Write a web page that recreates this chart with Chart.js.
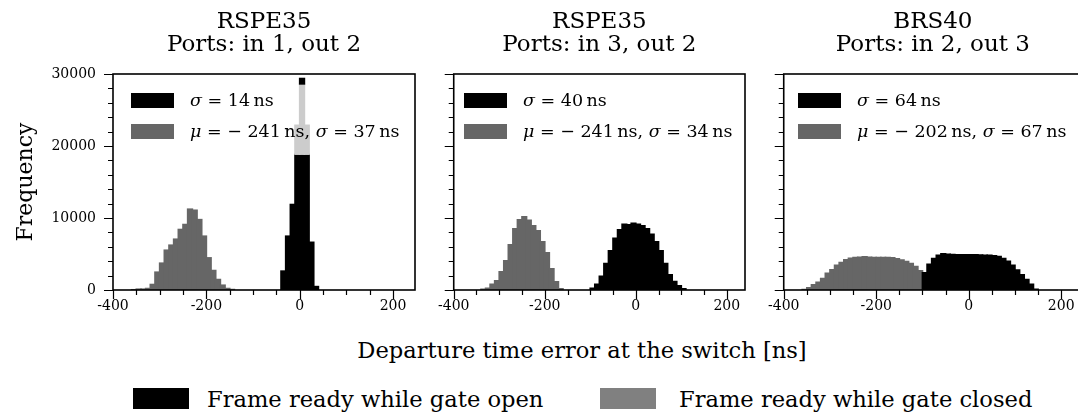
<!DOCTYPE html>
<html>
<head>
<meta charset="utf-8">
<script src="https://cdn.jsdelivr.net/npm/chart.js@4.4.1/dist/chart.umd.min.js"></script>
<style>
  body { margin: 0; width: 1078px; height: 414px; overflow: hidden; background: #fff; position: relative; font-family: "DejaVu Serif", serif; color: #000; }
  canvas { position: absolute; top: 0; }
  .sw { position: absolute; width: 43px; height: 15px; }
  .lt { position: absolute; font-size: 17.5px; line-height: 1; white-space: nowrap; transform: translateY(-50%); }
  .bigsw { position: absolute; width: 56px; height: 21px; }
  .bigt { position: absolute; font-size: 22.6px; line-height: 1; white-space: nowrap; transform: translateY(-50%); }
  #xtitle { position: absolute; left: 582px; top: 350px; font-size: 22.6px; line-height: 1; white-space: nowrap; transform: translate(-50%, -50%); }
</style>
</head>
<body>
<canvas id="c1" width="430" height="330" style="left:0px"></canvas>
<canvas id="c2" width="330" height="330" style="left:430px"></canvas>
<canvas id="c3" width="330" height="330" style="left:760px"></canvas>
<div id="xtitle">Departure time error at the switch [ns]</div>
<div id="legends"></div>
<script>
const titles = [
  ["RSPE35", "Ports: in 1, out 2"],
  ["RSPE35", "Ports: in 3, out 2"],
  ["BRS40", "Ports: in 2, out 3"]
];
const openLabels = ["<i>σ</i> = 14&thinsp;ns", "<i>σ</i> = 40&thinsp;ns", "<i>σ</i> = 64&thinsp;ns"];
const closedLabels = [
  "<i>μ</i> = − 241&thinsp;ns, <i>σ</i> = 37&thinsp;ns",
  "<i>μ</i> = − 241&thinsp;ns, <i>σ</i> = 34&thinsp;ns",
  "<i>μ</i> = − 202&thinsp;ns, <i>σ</i> = 67&thinsp;ns"
];
const xTicks = [-400, -200, 0, 200];
const yTicks = [0, 10000, 20000, 30000];

// panel 1: RSPE35 in 1 / out 2 (bin centres, 10 ns bins)
const p1ClosedBins = [-355, -345, -335, -325, -315, -305, -295, -285, -275, -265, -255, -245, -235, -225, -215, -205, -195, -185, -175, -165, -155, -145];
const p1Closed = [60, 140, 140, 230, 790, 2500, 3750, 5550, 6250, 7080, 8430, 9120, 11250, 11100, 9800, 7500, 4490, 2730, 1480, 690, 230, 90];
const p1OpenBins = [-35, -25, -15, -5, 5, 15, 25, 35];
const p1Open = [2650, 7500, 11900, 18840, 18840, 18840, 6650, 500];
const p1ClipBins = [-5, 5, 15];
const p1ClipLow = [18840, 18840, 18840];
const p1ClipHigh = [22900, 28600, 22900];
const p1PeakBins = [5];
const p1PeakLow = [28600];
const p1PeakHigh = [29400];

// panel 2: RSPE35 in 3 / out 2
const p2ClosedBins = [-335, -325, -315, -305, -295, -285, -275, -265, -255, -245, -235, -225, -215, -205, -195, -185, -175, -165];
const p2Closed = [140, 280, 830, 1300, 2550, 4070, 6300, 8520, 9770, 10190, 9720, 8940, 8240, 6710, 5190, 2960, 1160, 185];
const p2OpenBins = [-95, -85, -75, -65, -55, -45, -35, -25, -15, -5, 5, 15, 25, 35, 45, 55, 65, 75, 85, 95, 105];
const p2Open = [280, 830, 1940, 3700, 5460, 7220, 8380, 9170, 9070, 9300, 9170, 8940, 8520, 7780, 6710, 5460, 3700, 2130, 1200, 600, 185];

// panel 3: BRS40 in 2 / out 3
const p3ClosedBins = [-355, -345, -335, -325, -315, -305, -295, -285, -275, -265, -255, -245, -235, -225, -215, -205, -195, -185, -175, -165, -155, -145, -135, -125, -115, -105, -95, -85, -75, -65, -55, -45];
const p3Closed = [90, 320, 740, 1110, 1620, 2360, 2820, 3470, 3840, 4210, 4440, 4540, 4580, 4630, 4580, 4540, 4540, 4540, 4540, 4490, 4350, 4200, 3980, 3700, 3290, 2690, 2040, 1620, 1200, 740, 320, 90];
const p3OpenBins = [-95, -85, -75, -65, -55, -45, -35, -25, -15, -5, 5, 15, 25, 35, 45, 55, 65, 75, 85, 95, 105, 115, 125, 135, 145];
const p3Open = [2400, 3600, 4400, 4850, 5050, 5000, 4950, 4900, 4900, 4900, 4900, 4900, 4880, 4860, 4860, 4780, 4670, 4400, 4000, 3470, 2800, 2130, 1480, 830, 140];

const FONT = "'DejaVu Serif', serif";
const BLACK = "#000000";
const GRAY = "#666666";
const LIGHT = "#cccccc";

function pts(bins, vals) {
  return bins.map((b, i) => ({ x: b, y: vals[i] }));
}
function floating(bins, lo, hi) {
  return bins.map((b, i) => ({ x: b, y: [lo[i], hi[i]] }));
}
function bars(data, color) {
  return {
    data: data, backgroundColor: color, borderColor: color, borderWidth: 0,
    grouped: false, barPercentage: 1.1, categoryPercentage: 1, inflateAmount: 0.6
  };
}

const frameTicks = {
  id: "frameTicks",
  afterDraw(chart) {
    const { ctx, chartArea: a, scales: { x, y } } = chart;
    ctx.save();
    ctx.strokeStyle = "#000";
    ctx.lineWidth = 1.2;
    ctx.beginPath();
    for (let v = x.min; v <= x.max; v += 50) {
      const px = Math.round(x.getPixelForValue(v)) + 0.5;
      const len = v % 200 === 0 ? 9 : 5;
      ctx.moveTo(px, a.bottom);
      ctx.lineTo(px, a.bottom + len);
    }
    for (let v = y.min; v <= y.max; v += 2000) {
      const py = Math.round(y.getPixelForValue(v)) + 0.5;
      const len = v % 10000 === 0 ? 9 : 5;
      ctx.moveTo(a.left, py);
      ctx.lineTo(a.left - len, py);
    }
    ctx.stroke();
    ctx.lineWidth = 1.6;
    ctx.strokeRect(a.left, a.top, a.right - a.left, a.bottom - a.top);
    ctx.restore();
  }
};

function makeChart(id, idx, datasets, xMax, pad, showY) {
  new Chart(document.getElementById(id), {
    type: "bar",
    data: { datasets: datasets },
    plugins: [frameTicks],
    options: {
      responsive: false,
      animation: false,
      layout: { padding: pad },
      plugins: {
        legend: { display: false },
        tooltip: { enabled: false },
        title: {
          display: true, text: titles[idx], fullSize: false, color: "#000",
          font: { family: FONT, size: 23, weight: "normal", lineHeight: 1 },
          padding: { top: 11, bottom: 17 }
        }
      },
      scales: {
        x: {
          type: "linear", min: -400, max: xMax, offset: false,
          grid: { display: false, drawTicks: false, offset: false },
          border: { display: false },
          afterBuildTicks: s => { s.ticks = xTicks.map(v => ({ value: v })); },
          afterFit: s => { s.height = 40; },
          ticks: {
            autoSkip: false, maxRotation: 0, padding: 8, color: "#000",
            font: { family: FONT, size: 14 },
            callback: v => String(v)
          }
        },
        y: {
          min: 0, max: 30000,
          display: true,
          grid: { display: false, drawTicks: false },
          border: { display: false },
          afterBuildTicks: s => { s.ticks = yTicks.map(v => ({ value: v })); },
          afterFit: s => { s.width = showY ? 113 : 0; },
          ticks: {
            display: showY, padding: 17, color: "#000",
            font: { family: FONT, size: 14 },
            callback: v => String(v)
          },
          title: {
            display: showY, text: "Frequency", color: "#000",
            font: { family: FONT, size: 22 },
            padding: { top: 13 }
          }
        }
      }
    }
  });
}

makeChart("c1", 0, [
  bars(floating(p1PeakBins, p1PeakLow, p1PeakHigh), BLACK),
  bars(floating(p1ClipBins, p1ClipLow, p1ClipHigh), LIGHT),
  bars(pts(p1OpenBins, p1Open), BLACK),
  bars(pts(p1ClosedBins, p1Closed), GRAY)
], 247, { left: 0, right: 15, top: 0, bottom: 0 }, true);

makeChart("c2", 1, [
  bars(pts(p2OpenBins, p2Open), BLACK),
  bars(pts(p2ClosedBins, p2Closed), GRAY)
], 240, { left: 16, right: 15, top: 0, bottom: 0 }, false);

makeChart("c3", 2, [
  bars(pts(p3OpenBins, p3Open), BLACK),
  bars(pts(p3ClosedBins, p3Closed), GRAY)
], 245, { left: 20, right: 8, top: 0, bottom: 0 }, false);

// legends inside each panel + figure legend
const panelLeft = [113, 446, 780];
const holder = document.getElementById("legends");
let html = "";
panelLeft.forEach((l, i) => {
  html += `<div class="sw" style="left:${l + 18}px;top:93px;background:${BLACK}"></div>`;
  html += `<div class="lt" style="left:${l + 77}px;top:101px">${openLabels[i]}</div>`;
  html += `<div class="sw" style="left:${l + 18}px;top:124px;background:${GRAY}"></div>`;
  html += `<div class="lt" style="left:${l + 77}px;top:132px">${closedLabels[i]}</div>`;
});
html += `<div class="bigsw" style="left:133px;top:388px;background:#000"></div>`;
html += `<div class="bigt" style="left:207px;top:399px">Frame ready while gate open</div>`;
html += `<div class="bigsw" style="left:600px;top:388px;background:#808080"></div>`;
html += `<div class="bigt" style="left:679px;top:399px">Frame ready while gate closed</div>`;
holder.innerHTML = html;
</script>
</body>
</html>
